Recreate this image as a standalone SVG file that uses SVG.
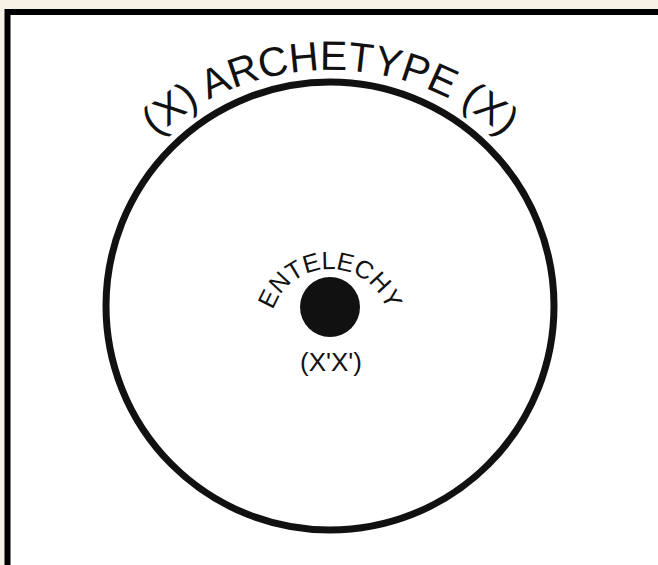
<svg xmlns="http://www.w3.org/2000/svg" width="658" height="565" viewBox="0 0 658 565">
  <style>
    .lbl { font-family: "Liberation Sans", Arial, sans-serif; fill: #111; }
  </style>
  <defs>
    <path id="archArc" d="M 70,330 A 260 260 0 0 1 590,330"/>
    <path id="entArc" d="M 270,329 A 60 60 0 0 1 390,329"/>
  </defs>
  <rect x="0" y="0" width="658" height="565" fill="#f8f1e6"/>
  <rect x="7.5" y="12" width="700" height="600" fill="#ffffff" stroke="#000" stroke-width="6"/>
  <g id="archetype">
    <circle cx="330" cy="306" r="224" fill="none" stroke="#111" stroke-width="7"/>
    <text class="lbl" font-size="41"><textPath href="#archArc" startOffset="50%" text-anchor="middle">(X) ARCHETYPE (X)</textPath></text>
  </g>
  <g id="entelechy">
    <circle cx="330" cy="307" r="30" fill="#111"/>
    <text class="lbl" font-size="25"><textPath href="#entArc" startOffset="50%" text-anchor="middle">ENTELECHY</textPath></text>
    <text class="lbl" x="331" y="371" font-size="26" text-anchor="middle">(X'X')</text>
  </g>
</svg>
